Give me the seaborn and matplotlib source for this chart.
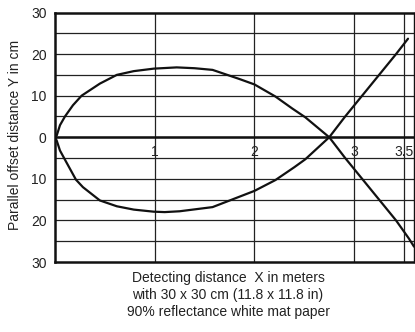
import matplotlib
matplotlib.use("Agg")
import matplotlib.pyplot as plt
import seaborn as sns
import pandas as pd

# Data
upper_x = [0, 0.017, 0.05, 0.10, 0.18, 0.267, 0.45, 0.62, 0.79, 0.99, 1.22, 1.40, 1.58, 1.85, 2.0, 2.21, 2.38, 2.51, 2.75, 2.91, 3.08, 3.25, 3.42, 3.55, 3.6]
upper_y = [0, 0.4, 2.9, 5.0, 7.7, 10.0, 12.9, 15.0, 15.9, 16.5, 16.8, 16.6, 16.2, 14.0, 12.7, 9.8, 6.9, 4.8, 0, -5, -10, -15, -20, -24.4, -26.3]
lower_x = [0, 0.017, 0.05, 0.10, 0.21, 0.28, 0.45, 0.62, 0.79, 0.99, 1.10, 1.25, 1.58, 2.0, 2.21, 2.40, 2.51, 2.75, 2.91, 3.08, 3.25, 3.42, 3.54]
lower_y = [0, -0.8, -3.2, -5.4, -10.2, -12.0, -15.2, -16.6, -17.4, -17.9, -18.0, -17.8, -16.8, -12.9, -10.3, -7.2, -5.3, 0, 5, 10, 15, 20, 23.7]
x_ticks = [1, 2, 3, 3.5]
x_tick_labels = ["1", "2", "3", "3.5"]
y_ticks = [30, 20, 10, 0, -10, -20, -30]
y_tick_labels = ["30", "20", "10", "0", "10", "20", "30"]
y_grid = [-25, -15, -5, 5, 15, 25]

df = pd.concat([
    pd.DataFrame({"x": upper_x, "y": upper_y, "s": "upper"}),
    pd.DataFrame({"x": lower_x, "y": lower_y, "s": "lower"}),
])

sns.set_theme(style="white")
plt.rcParams['font.family'] = ['Liberation Sans', 'DejaVu Sans']

fig = plt.figure(figsize=(4.15, 3.32), dpi=100)
ax = fig.add_axes([55/415, 1-262/332, 359/415, (262-12.5)/332])

sns.lineplot(data=df, x="x", y="y", units="s", estimator=None, sort=False,
             color="#111111", lw=1.6, ax=ax, legend=False)
for l in ax.lines:
    l.set_solid_joinstyle("round")

ax.set_xlim(0, 3.6)
ax.set_ylim(-30, 30)

for v in x_ticks:
    ax.axvline(v, color="#222222", lw=0.9, zorder=0)
for v in y_ticks[1:-1] + y_grid:
    ax.axhline(v, color="#222222", lw=0.9, zorder=0)
ax.axhline(0, color="#111111", lw=1.8, zorder=1)

ax.set_xticks([])
ax.set_yticks(y_ticks)
ax.set_yticklabels(y_tick_labels, fontsize=10, color="#222222")
ax.tick_params(axis="y", length=0, pad=6)

for v, lab in zip(x_ticks, x_tick_labels):
    ax.text(v, -1.8, lab, ha="center", va="top", fontsize=10, color="#222222")

for s in ax.spines.values():
    s.set_color("#111111")
    s.set_linewidth(1.8)
ax.spines["right"].set_linewidth(1.0)

ax.set_xlabel("")
ax.set_ylabel("")
fig.text(15/415, 1-135/332, "Parallel offset distance Y in cm", rotation=90,
         ha="center", va="center", fontsize=10, color="#222222")
fig.text(228/415, 1-295/332,
         "Detecting distance  X in meters\nwith 30 x 30 cm (11.8 x 11.8 in)\n90% reflectance white mat paper",
         ha="center", va="center", fontsize=10, color="#222222", linespacing=1.3)

fig.savefig("out.png", dpi=100)
